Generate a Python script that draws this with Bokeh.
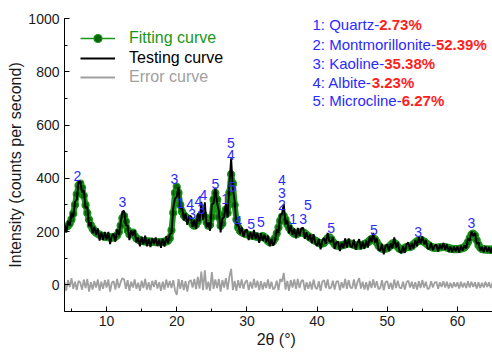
import numpy as np
from bokeh.plotting import figure
from bokeh.models import (Range1d, Legend, LegendItem, Label, SingleIntervalTicker,
                          ColumnDataSource)
from bokeh.core.properties import value
from bokeh.embed import file_html
from bokeh.resources import INLINE

# ---------------- data ----------------
# 2-theta sampling grid (degrees), step 0.25 from 4 to 65
two_theta = np.round(np.arange(4.0, 65.001, 0.25), 2)

# fitted intensity (counts per second), one row per degree
fitting = [
    215, 218, 222, 230,   # 4
    245, 268, 300, 340,   # 5
    372, 380, 365, 335,   # 6
    300, 270, 245, 225,   # 7
    212, 203, 197, 192,   # 8
    188, 185, 183, 181,   # 9
    180, 179, 178, 177,   # 10
    178, 180, 186, 198,   # 11
    222, 250, 258, 238,   # 12
    205, 190, 192, 196,   # 13
    185, 175, 170, 167,   # 14
    165, 164, 163, 163,   # 15
    162, 162, 161, 161,   # 16
    160, 160, 160, 161,   # 17
    161, 162, 163, 166,   # 18
    175, 205, 270, 345,   # 19
    368, 345, 300, 275,   # 20
    262, 255, 250, 246,   # 21
    240, 228, 222, 226,   # 22
    238, 252, 262, 265,   # 23
    255, 235, 222, 225,   # 24
    255, 320, 345, 320,   # 25
    255, 222, 230, 265,   # 26
    282, 270, 345, 415,   # 27
    380, 300, 245, 215,   # 28
    203, 198, 195, 192,   # 29
    190, 188, 186, 185,   # 30
    184, 182, 180, 178,   # 31
    180, 183, 178, 172,   # 32
    165, 160, 160, 165,   # 33
    175, 192, 215, 240,   # 34
    255, 258, 245, 228,   # 35
    215, 205, 198, 192,   # 36
    190, 192, 196, 198,   # 37
    197, 193, 188, 183,   # 38
    178, 174, 170, 166,   # 39
    162, 158, 155, 155,   # 40
    158, 166, 175, 178,   # 41
    172, 162, 153, 148,   # 42
    147, 147, 148, 150,   # 43
    152, 155, 156, 155,   # 44
    153, 150, 148, 147,   # 45
    147, 148, 150, 153,   # 46
    156, 160, 166, 172,   # 47
    175, 170, 160, 148,   # 48
    140, 136, 135, 136,   # 49
    138, 142, 148, 155,   # 50
    158, 152, 143, 136,   # 51
    133, 134, 138, 142,   # 52
    143, 142, 145, 152,   # 53
    158, 163, 166, 167,   # 54
    165, 162, 157, 152,   # 55
    147, 143, 140, 139,   # 56
    139, 140, 141, 142,   # 57
    143, 142, 140, 138,   # 58
    136, 135, 134, 134,   # 59
    134, 135, 136, 138,   # 60
    141, 148, 160, 175,   # 61
    188, 192, 185, 168,   # 62
    150, 140, 135, 133,   # 63
    133, 132, 132, 132,   # 64
    132,                  # 65
]

# error curve = testing - fitting (counts per second)
error = [
    10, -22, 18, -8,      # 4
    25, -15, 12, -20,     # 5
    15, 8, -18, 20,       # 6
    -12, 22, -25, 10,     # 7
    -18, 14, -10, 20,     # 8
    -22, 12, -15, 18,     # 9
    -10, 20, -25, 8,      # 10
    14, -18, 22, -12,     # 11
    10, 25, 20, -15,      # 12
    18, -22, 12, -10,     # 13
    20, -15, 8, -22,      # 14
    16, -12, 22, -18,     # 15
    10, -20, 15, -8,      # 16
    18, -14, 10, -22,     # 17
    12, -18, 20, -10,     # 18
    15, -12, 18, -20,     # 19
    -38, 22, -15, 18,     # 20
    -20, 14, -25, 12,     # 21
    18, -10, 22, -16,     # 22
    30, -14, 50, -20,     # 23
    55, -18, 12, -22,     # 24
    48, -15, 20, -12,     # 25
    22, -25, 18, -10,     # 26
    25, -18, 30, 60,      # 27
    -20, 15, -22, 18,     # 28
    -12, 20, -15, 10,     # 29
    18, -20, 12, -14,     # 30
    22, -10, 16, -20,     # 31
    14, -18, 10, -12,     # 32
    20, -15, 12, -18,     # 33
    -10, 16, -20, 22,     # 34
    12, 45, -18, 15,      # 35
    -22, 18, -10, 20,     # 36
    -15, 22, -12, 14,     # 37
    18, -20, 10, -15,     # 38
    12, -18, 20, -10,     # 39
    -16, 14, -22, 12,     # 40
    18, -12, 20, -15,     # 41
    -10, 16, -18, 12,     # 42
    14, -20, 10, -12,     # 43
    22, -15, 18, -10,     # 44
    -12, 20, -16, 10,     # 45
    25, -14, 12, -18,     # 46
    10, -20, 15, -12,     # 47
    20, -10, 14, -16,     # 48
    -12, 18, -20, 10,     # 49
    14, -15, 8, -18,      # 50
    20, -12, 16, -10,     # 51
    -14, 12, -18, 10,     # 52
    16, -10, 12, -15,     # 53
    10, -18, 14, -12,     # 54
    18, -10, 12, -16,     # 55
    -12, 14, -10, 8,      # 56
    12, -15, 10, -8,      # 57
    14, -10, 12, -14,     # 58
    8, -12, 10, -8,       # 59
    10, -14, 12, -10,     # 60
    8, -12, 14, -10,      # 61
    12, -8, 10, -14,      # 62
    10, -12, 8, -10,      # 63
    12, -8, 10, -12,      # 64
    8,                    # 65
]

# measured (testing) curve
testing = (np.array(fitting) + np.array(error)).tolist()

# peak identification labels
peak_x = [5.85, 12.25, 19.65, 20.6, 21.9, 22.2, 23.1, 23.8, 23.5, 25.5, 26.9,
          27.7, 27.7, 27.9, 28.75, 30.6, 32.0, 35.0, 35.0, 35.0, 36.6, 38.0,
          38.7, 42.0, 48.1, 54.4, 62.0]
peak_y = [410, 312, 398, 308, 304, 267, 316, 338, 286, 380, 323,
          534, 489, 368, 240, 229, 237, 395, 346, 301, 248, 248,
          301, 214, 207, 199, 233]
peak_lab = ["2", "3", "3", "1", "4", "3", "4", "4", "3", "5", "1",
            "5", "4", "5", "4", "5", "5", "4", "3", "2", "1", "3",
            "5", "5", "5", "3", "3"]

phase_names = ["1: Quartz-", "2: Montmorillonite-", "3: Kaoline-", "4: Albite-", "5: Microcline-"]
phase_pct = ["2.73%", "52.39%", "35.38%", "3.23%", "6.27%"]

# ---------------- styles ----------------
FONT = "Liberation Sans"
GREEN = "#1a961a"
DKGREEN = "#0a640a"
GRAY = "#a0a0a0"
BLUE = "#2b2bff"
RED = "#ff1e1e"

src = ColumnDataSource(dict(x=two_theta, fit=fitting, test=testing, err=error))

p = figure(width=492, height=354, x_range=Range1d(4, 65), y_range=Range1d(-100, 1000),
           output_backend="svg", toolbar_location=None, title=None,
           min_border_left=64, min_border_right=0, min_border_top=18, min_border_bottom=43)
p.outline_line_color = None
p.xgrid.visible = False
p.ygrid.visible = False
p.background_fill_color = "white"
p.border_fill_color = "white"

# fitting curve: thin line (legend), band, circle symbols
r_fit_thin = p.line("x", "fit", source=src, line_color=GREEN, line_width=1.5)
p.line("x", "fit", source=src, line_color=GREEN, line_width=6)
r_fit_pts = p.scatter("x", "fit", source=src, marker="circle", size=7,
                      fill_color=DKGREEN, line_color=GREEN, line_width=1.2)
r_test = p.line("x", "test", source=src, line_color="black", line_width=1.9)
r_err = p.line("x", "err", source=src, line_color=GRAY, line_width=1.8)

# axes
for ax in (p.xaxis[0], p.yaxis[0]):
    ax.axis_line_color = "black"
    ax.axis_line_width = 1
    ax.major_tick_in = 5
    ax.major_tick_out = 0
    ax.minor_tick_in = 3
    ax.minor_tick_out = 0
    ax.major_tick_line_color = "black"
    ax.minor_tick_line_color = "black"
    ax.major_label_text_font = FONT
    ax.major_label_text_font_size = "14px"
    ax.major_label_text_color = "#1a1a1a"
    ax.axis_label_text_font = FONT
    ax.axis_label_text_font_size = "16px"
    ax.axis_label_text_font_style = "normal"
    ax.axis_label_text_color = "#1a1a1a"

p.xaxis.ticker = SingleIntervalTicker(interval=10, num_minor_ticks=2)
p.yaxis.ticker = SingleIntervalTicker(interval=200, num_minor_ticks=2)
p.xaxis.axis_label = "2\u03b8  (\u00b0)"
p.yaxis.axis_label = "Intensity (counts per second)"
p.xaxis.major_label_standoff = 4
p.xaxis.axis_label_standoff = 2
p.yaxis.major_label_standoff = 5
p.yaxis.axis_label_standoff = 1

# legends (one per item so each label has its own colour)
def add_legend(label, renderers, color, y_loc):
    lg = Legend(items=[LegendItem(label=label, renderers=renderers)],
                location=(16, y_loc), padding=0, margin=0,
                border_line_color=None, background_fill_alpha=0,
                glyph_width=35, glyph_height=20, label_height=20,
                label_standoff=14, spacing=0,
                label_text_font=FONT, label_text_font_size="16px",
                label_text_color=color, label_text_baseline="middle")
    p.add_layout(lg)

add_legend("Fitting curve", [r_fit_thin, r_fit_pts], GREEN, 263)
add_legend("Testing curve", [r_test], "black", 243)
add_legend("Error curve", [r_err], GRAY, 224)

# peak labels
p.text(x=peak_x, y=peak_y, text=peak_lab, text_align="center", text_baseline="middle",
       text_color=BLUE, text_font=value(FONT), text_font_size="14px")

# phase composition block
name_y = [287, 267.5, 248.5, 229.5, 211]
pct_x = [314.7, 371.4, 319.7, 307.2, 337.2]
for i in range(len(phase_names)):
    p.add_layout(Label(x=248, y=name_y[i], x_units="screen", y_units="screen",
                       text=phase_names[i], text_color=BLUE, text_font=FONT,
                       text_font_size="15px", text_baseline="middle"))
    p.add_layout(Label(x=pct_x[i], y=name_y[i], x_units="screen", y_units="screen",
                       text=phase_pct[i], text_color=RED, text_font=FONT,
                       text_font_size="15px", text_font_style="bold",
                       text_baseline="middle"))

open("out.html", "w").write(file_html(p, INLINE))
